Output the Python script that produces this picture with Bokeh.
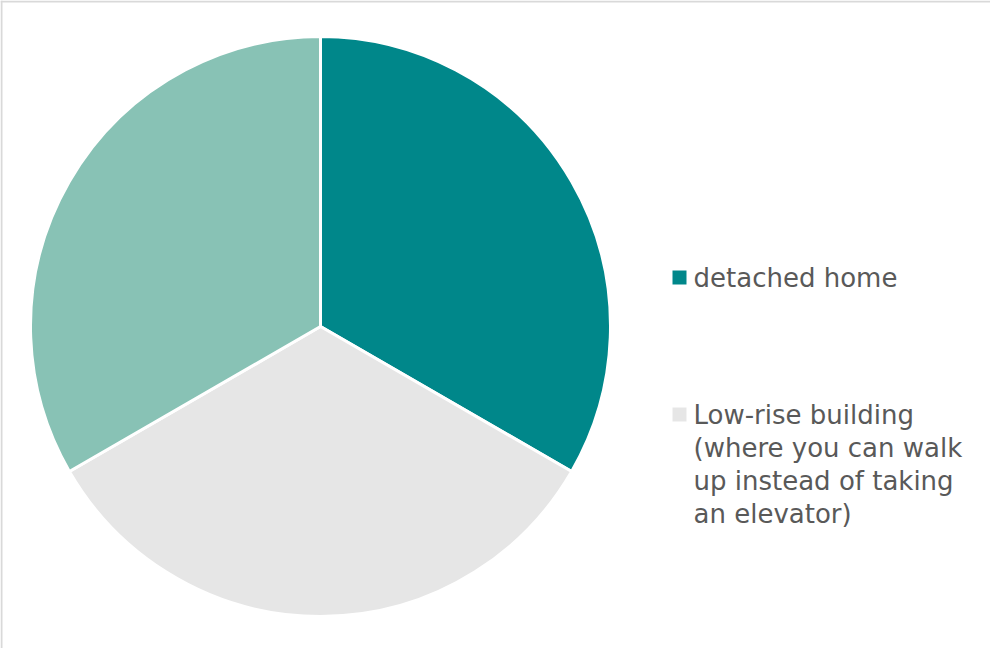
import math
from bokeh.plotting import figure
from bokeh.models import Range1d, Span
from bokeh.core.properties import value
from bokeh.embed import file_html
from bokeh.resources import INLINE

categories = ["detached home",
              "Low-rise building\n(where you can walk\nup instead of taking\nan elevator)",
              "High-rise building"]
values = [1, 1, 1]
colors = ["#00878A", "#E6E6E6", "#88C2B5"]
legend_shown = [0, 1]

W, H = 990, 648
p = figure(width=W, height=H, output_backend="svg", toolbar_location=None,
           x_range=Range1d(0, W), y_range=Range1d(0, H), min_border=0)
p.axis.visible = False
p.grid.visible = False
p.outline_line_color = None
p.background_fill_color = "white"
p.border_fill_color = "white"

# chart-area frame (only left and top edges are visible in the reference)
p.add_layout(Span(location=1, dimension="height", line_color="#D9D9D9", line_width=2))
p.add_layout(Span(location=H - 1, dimension="width", line_color="#D9D9D9", line_width=2))

cx, cy, r = 320, 322, 290
total = sum(values)
start = math.pi / 2
starts, ends = [], []
for v in values:
    a = 2 * math.pi * v / total
    ends.append(start)
    starts.append(start - a)
    start -= a

p.wedge(x=[cx] * len(values), y=[cy] * len(values), radius=r,
        start_angle=starts, end_angle=ends, fill_color=colors,
        line_color="white", line_width=3)

lx = [679, 679]
ly = [H - 277, H - 414]
p.rect(x=lx, y=ly, width=14, height=14, fill_color=[colors[i] for i in legend_shown],
       line_color=None)
p.text(x=[693, 693], y=[H - 277 + 15, H - 414 + 15],
       text=[categories[i] for i in legend_shown],
       text_font=value("DejaVu Sans"), text_font_size="26px",
       text_color="#595959", text_baseline="top", text_align="left",
       text_line_height=1.1)

open("out.html", "w").write(file_html(p, INLINE))
